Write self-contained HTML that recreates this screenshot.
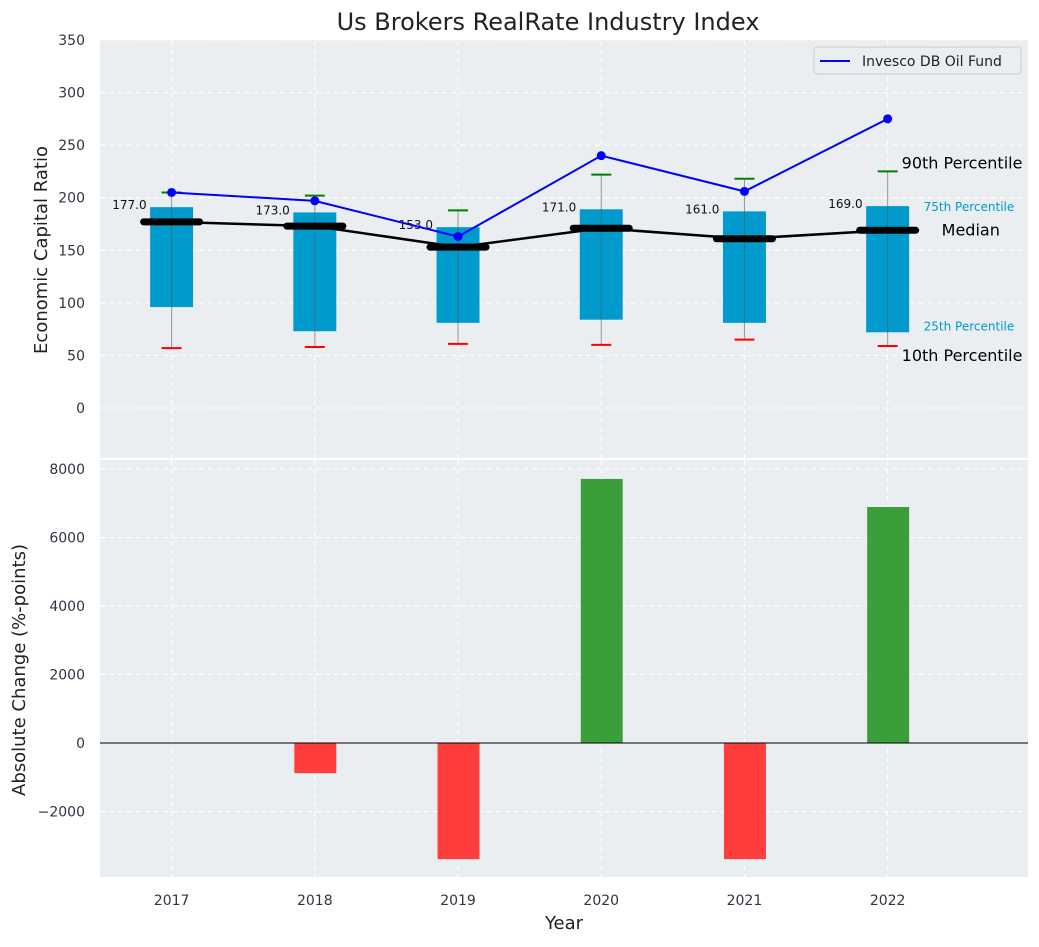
<!DOCTYPE html>
<html><head><meta charset="utf-8"><style>
body{margin:0;background:#fff;font-family:"Liberation Sans","DejaVu Sans",sans-serif}
svg text{font-family:"DejaVu Sans","Liberation Sans",sans-serif}
</style></head><body>
<svg id="chart" width="1039" height="942" xmlns="http://www.w3.org/2000/svg">
<text x="548" y="30" font-size="24" text-anchor="middle" fill="#222">Us Brokers RealRate Industry Index</text>
<rect x="100" y="40" width="928" height="418" fill="#eaeef0"/>
<rect x="100" y="460" width="928" height="417" fill="#eaeef0"/>
<g id="gtop"></g><g id="gbot"></g>
<text x="47" y="250" font-size="18" text-anchor="middle" fill="#222" transform="rotate(-90 47 250)">Economic Capital Ratio</text>
<text x="25" y="670" font-size="18" text-anchor="middle" fill="#222" transform="rotate(-90 25 670)">Absolute Change (%-points)</text>
<text x="564" y="929" font-size="18" text-anchor="middle" fill="#222">Year</text>
<g>
<rect x="814" y="47" width="207" height="27" rx="3" fill="#eaeef0" stroke="#ccc"/>
<line x1="820" y1="61" x2="850" y2="61" stroke="#0000ff" stroke-width="2"/>
<text x="862" y="66" font-size="14" fill="#222">Invesco DB Oil Fund</text>
</g>
</svg>
<script>
const years=[2017,2018,2019,2020,2021,2022];
const medians=[177,173,153,171,161,169];
const q75=[191,186,172,189,187,192];
const q25=[96,73,81,84,81,72];
const p90=[205,202,188,222,218,225];
const p10=[57,58,61,60,65,59];
const oil=[205,197,163,240,206,275];
const changes=[0,-880,-3390,7710,-3390,6890];
const topTicks=[0,50,100,150,200,250,300,350];
const botTicks=[-2000,0,2000,4000,6000,8000];
const NS='http://www.w3.org/2000/svg';
const X=v=>100+(v-2016.5)*(928/6.48);
const Yt=v=>408-v*(368/350);
const Yb=v=>743-v*(274/8000);
function mk(p,t,a){const e=document.createElementNS(NS,t);for(const k in a)e.setAttribute(k,a[k]);p.appendChild(e);return e;}
const gTop=document.getElementById('gtop'),gBot=document.getElementById('gbot');
topTicks.forEach(t=>{const y=Yt(t);
 const l=mk(gTop,'line',{x1:100,x2:1028,y1:y,y2:y,stroke:'#fff','stroke-dasharray':'5,4'});
 
 
 const tx=mk(gTop,'text',{x:85,y:y+5,'font-size':14,fill:'#334','text-anchor':'end'});tx.textContent=t;
 
 });
botTicks.forEach(t=>{const y=Yb(t);
 const l=mk(gBot,'line',{x1:100,x2:1028,y1:y,y2:y,stroke:'#fff','stroke-dasharray':'5,4'});
 
 
 const tx=mk(gBot,'text',{x:85,y:y+5,'font-size':14,fill:'#334','text-anchor':'end'});tx.textContent=t<0?'\u2212'+(-t):t;
 
 });
years.forEach(yr=>{const x=X(yr);
 [[40,458,gTop],[460,877,gBot]].forEach(([a,b,g])=>{const l=mk(g,'line',{x1:x,x2:x,y1:a,y2:b,stroke:'#fff','stroke-dasharray':'5,4'});
  
  });
 const tx=mk(gBot,'text',{x:x,y:905,'font-size':14,fill:'#334','text-anchor':'middle'});tx.textContent=yr;
 
 });
const bw=0.3*928/6.48;
years.forEach((yr,i)=>{const x=X(yr);
 const r=mk(gTop,'rect',{x:x-bw/2,y:Yt(q75[i]),width:bw,height:Yt(q25[i])-Yt(q75[i]),fill:'#009acd'});
 
 
 const w=mk(gTop,'line',{x1:x,x2:x,y1:Yt(p90[i]),y2:Yt(p10[i]),stroke:'#555','stroke-opacity':0.6,'stroke-width':1});
 
 
 const h=mk(gTop,'line',{x1:x-10,x2:x+10,y1:Yt(p90[i]),y2:Yt(p90[i]),stroke:'#008000','stroke-width':2});
 
 
 const lo=mk(gTop,'line',{x1:x-10,x2:x+10,y1:Yt(p10[i]),y2:Yt(p10[i]),stroke:'#ff0000','stroke-width':2});
 
 });
const mp=mk(gTop,'polyline',{points:years.map((y,i)=>X(y)+','+Yt(medians[i])).join(' '),fill:'none',stroke:'#000','stroke-width':2.5});


years.forEach((yr,i)=>{const x=X(yr),y=Yt(medians[i]);
 const m=mk(gTop,'line',{x1:x-28,x2:x+28,y1:y,y2:y,stroke:'#000','stroke-width':7,'stroke-linecap':'round'});
 
 
 const t=mk(gTop,'text',{x:x-25,y:Yt(q75[i])+2,'font-size':12,fill:'#111','text-anchor':'end'});t.textContent=medians[i].toFixed(1);
 
 });
const op=mk(gTop,'polyline',{points:years.map((y,i)=>X(y)+','+Yt(oil[i])).join(' '),fill:'none',stroke:'#0000ff','stroke-width':2});


years.forEach((yr,i)=>{const c=mk(gTop,'circle',{cx:X(yr),cy:Yt(oil[i]),r:4.5,fill:'#0000ff'});
 
 });
const li=years.length-1,lx=X(years[li]);
[[lx+14,Yt(p90[li])-3,'90th Percentile',16,'#000'],[lx+36,Yt(q75[li])+5,'75th Percentile',12,'#009acd'],[lx+54,Yt(medians[li])+5,'Median',16,'#000'],[lx+36,Yt(q25[li])-2,'25th Percentile',12,'#009acd'],[lx+14,Yt(p10[li])+15,'10th Percentile',16,'#000']].forEach(a=>{
 const t=mk(gTop,'text',{x:a[0],y:a[1],'font-size':a[3],fill:a[4]});t.textContent=a[2];
 
 });
years.forEach((yr,i)=>{const v=changes[i];const y0=Yb(0),y1=Yb(v);
 const r=mk(gBot,'rect',{x:X(yr)-bw/2+1,y:Math.min(y0,y1),width:bw-1,height:Math.abs(y1-y0),fill:v>=0?'#3a9e3a':'#ff3d3d'});
 
 });
const z=mk(gBot,'line',{x1:100,x2:1028,y1:Yb(0),y2:Yb(0),stroke:'#000','stroke-width':1});


</script>
</body></html>
